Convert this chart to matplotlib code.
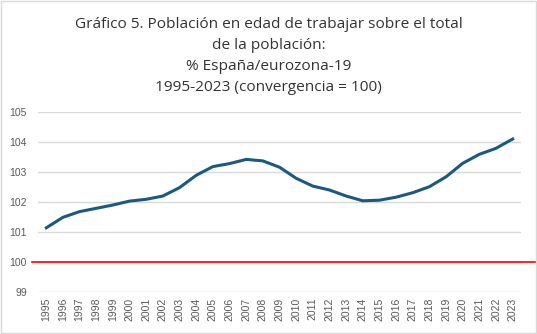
import matplotlib.pyplot as plt
from matplotlib.patches import Rectangle

years = [str(y) for y in range(1995, 2024)]
ratio = [101.14, 101.49, 101.68, 101.79, 101.90, 102.03, 102.09, 102.20, 102.48,
         102.89, 103.18, 103.28, 103.42, 103.37, 103.16, 102.79, 102.53, 102.40,
         102.20, 102.04, 102.06, 102.16, 102.31, 102.51, 102.84, 103.29, 103.59,
         103.79, 104.10]
convergencia = 100

title = ("Gráfico 5. Población en edad de trabajar sobre el total\n"
         "de la población:\n"
         "% España/eurozona-19\n"
         "1995-2023 (convergencia = 100)")

fig = plt.figure(figsize=(5.37, 3.34), dpi=100)
ax = fig.add_axes([38 / 537, 42 / 334, 483 / 537, 180 / 334])

ax.plot(years, ratio, color='#1B5A80', linewidth=2.2, zorder=3)
ax.axhline(convergencia, xmin=-0.013, xmax=1.04, color='#FF0000', linewidth=1.2,
           clip_on=False, zorder=2)

ax.set_xlim(-0.5, len(years) - 0.5)
ax.set_ylim(99, 105)
ax.set_yticks(range(99, 106))
ax.yaxis.grid(True, color='#D9D9D9', linewidth=1)
ax.set_axisbelow(True)
for s in ax.spines.values():
    s.set_visible(False)
ax.tick_params(length=0, labelsize=7.5, colors='#595959')
ax.tick_params(axis='x', rotation=90, pad=4)
ax.tick_params(axis='y', pad=8)
for lab in ax.get_xticklabels() + ax.get_yticklabels():
    lab.set_family('Liberation Sans')

fig.text(0.5, 0.95, title, ha='center', va='top', fontsize=11.1,
         family='Open Sans', color='#333333', linespacing=1.55)

fig.patches.append(Rectangle((0.002, 0.003), 0.996, 0.994, transform=fig.transFigure,
                             fill=False, edgecolor='#D9D9D9', linewidth=1))

fig.savefig('out.png', dpi=100)
